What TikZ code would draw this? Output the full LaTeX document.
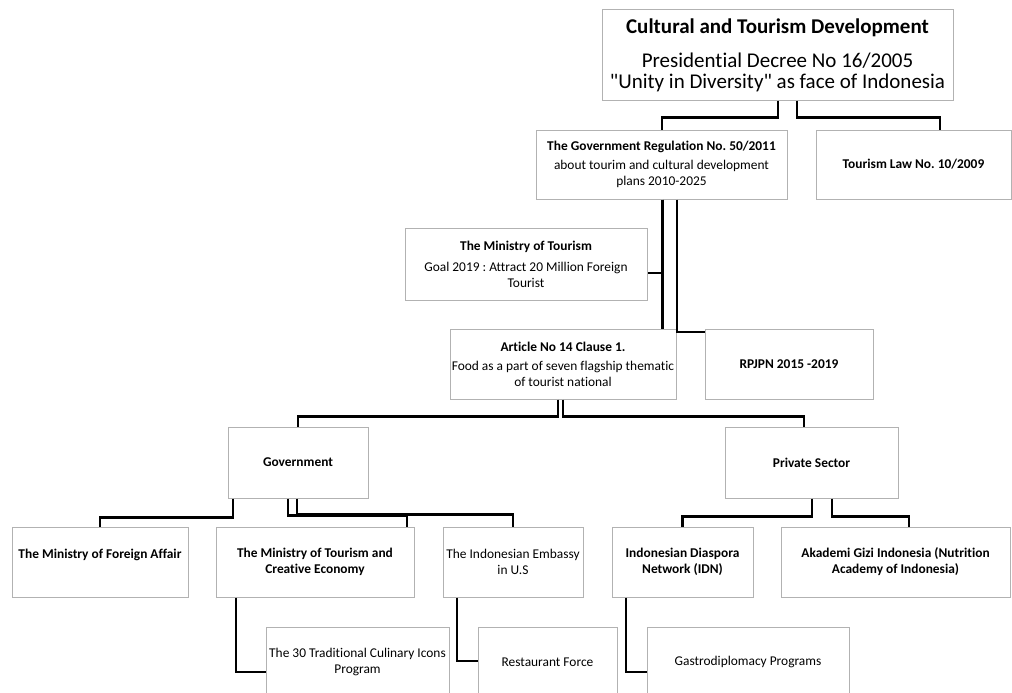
\documentclass[tikz,border=0pt]{standalone}
\usepackage{fontspec}
\setmainfont{Carlito}[Ligatures={NoCommon}]
\usetikzlibrary{calc}
\frenchspacing
\begin{document}
\begin{tikzpicture}[x=1pt,y=-1pt,
  box/.style={draw=gray!60, line width=1pt, fill=white, align=center, inner sep=0pt,
    font=\fontsize{13.4}{16}\selectfont},
  conn/.style={draw=black, line width=2.4pt}]
\useasboundingbox (0,0) rectangle (1012,693);
\clip (0,0) rectangle (1012,693);

\node[box, minimum width=351pt, minimum height=90pt, font=\fontsize{21}{21}\selectfont] (T) at (777.5,55)
  {\textbf{Cultural and Tourism Development}\\[13pt] Presidential Decree No 16/2005\\ \textquotedbl Unity in Diversity\textquotedbl{} as face of Indonesia};
\node[box, minimum width=251pt, minimum height=69pt] (GR) at (661.5,164.5)
  {\textbf{The Government Regulation No. 50/2011}\\[3pt] about tourim and cultural development\\ plans 2010-2025};
\node[box, minimum width=195pt, minimum height=69pt] (TL) at (913.5,164.5)
  {\textbf{Tourism Law No. 10/2009}};
\node[box, minimum width=242pt, minimum height=72pt] (MT) at (526,264)
  {\textbf{The Ministry of Tourism}\\[5pt] Goal 2019 : Attract 20 Million Foreign\\ Tourist};
\node[box, minimum width=226pt, minimum height=70pt] (AR) at (563,364)
  {\textbf{Article No 14 Clause 1.}\\[3pt] Food as a part of seven flagship thematic\\ of tourist national};
\node[box, minimum width=168pt, minimum height=70pt] (RP) at (789,364)
  {\textbf{RPJPN 2015 -2019}};
\node[box, minimum width=140pt, minimum height=71pt] (GV) at (298,462.5)
  {\textbf{Government}};
\node[box, minimum width=173pt, minimum height=71pt] (PS) at (811.5,462.5)
  {\textbf{Private Sector}};
\node[box, minimum width=176pt, minimum height=70pt] (FA) at (100,562)
  {\textbf{The Ministry of Foreign Affair}\\ \mbox{}};
\node[box, minimum width=198pt, minimum height=70pt] (MC) at (315,562)
  {\textbf{The Ministry of Tourism and}\\ \textbf{Creative Economy}};
\node[box, minimum width=140pt, minimum height=70pt] (EM) at (513,562)
  {The Indonesian Embassy\\ in U.S};
\node[box, minimum width=141pt, minimum height=70pt] (ID) at (682.5,562)
  {\textbf{Indonesian Diaspora}\\ \textbf{Network (IDN)}};
\node[box, minimum width=229pt, minimum height=70pt] (AK) at (895.5,562)
  {\textbf{Akademi Gizi Indonesia (Nutrition}\\ \textbf{Academy of Indonesia)}};
\node[box, minimum width=183pt, minimum height=70pt] (TR) at (357.5,662)
  {The 30 Traditional Culinary Icons\\ Program};
\node[box, minimum width=139pt, minimum height=70pt] (RF) at (547.5,662)
  {Restaurant Force};
\node[box, minimum width=202pt, minimum height=70pt] (GD) at (748,662)
  {Gastrodiplomacy Programs};

\draw[conn] ([xshift=0.5pt]T.south) -- ++(0,17) -| ([xshift=0.5pt]GR.north);
\draw[conn] ([xshift=19.5pt]T.south) -- ++(0,17) -| ([xshift=26.5pt]TL.north);
\draw[conn] ([xshift=1.5pt]GR.south) |- ([yshift=-9pt]MT.east);
\draw[conn] ([xshift=1pt]GR.south) -- ([xshift=1pt]GR.south |- AR.north);
\draw[conn] ([xshift=15.5pt]GR.south) |- ([yshift=32pt]RP.west);
\draw[conn] ([xshift=-5pt]AR.south) -- ++(0,17) -| (GV.north);
\draw[conn] (AR.south) -- ++(0,17) -| ([xshift=-7.5pt]PS.north);
\draw[conn] ([xshift=-65pt]GV.south) -- ++(0,19) -| (FA.north);
\draw[conn] ([xshift=-10pt]GV.south) -- ++(0,17) -| ([xshift=92pt]MC.north);
\draw[conn] ([xshift=-1pt]GV.south) -- ++(0,16) -| (EM.north);
\draw[conn] ([xshift=0.5pt]PS.south) -- ++(0,18) -| (ID.north);
\draw[conn] ([xshift=20.5pt]PS.south) -- ++(0,18) -| ([xshift=13.5pt]AK.north);
\draw[conn] ([xshift=-79pt]MC.south) |- ([yshift=-10pt]TR.west);
\draw[conn] ([xshift=-56pt]EM.south) |- ([yshift=1pt]RF.west);
\draw[conn] ([xshift=-56.5pt]ID.south) |- ([yshift=-10pt]GD.west);
\end{tikzpicture}
\end{document}
